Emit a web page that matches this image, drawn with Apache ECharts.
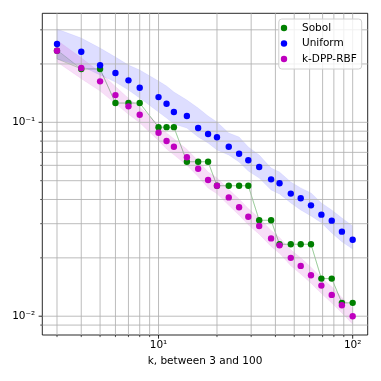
<!DOCTYPE html>
<html lang="en">
<head>
<meta charset="UTF-8">
<script src="https://cdn.jsdelivr.net/npm/echarts@6/dist/echarts.min.js"></script>
<style>
    html, body { margin: 0; padding: 0; background: #fff; }
    #main { width: 381px; height: 381px; }
</style>
</head>
<body>
<div id="main"></div>
<script type="text/javascript">
// k values on the x axis
var kValues = [3, 4, 5, 6, 7, 8, 10, 11, 12, 14, 16, 18, 20, 23, 26, 29, 33, 38, 42, 48, 54, 61, 69, 78, 88, 100];

// mean error per method
var sobol = [0.234, 0.1885, 0.1885, 0.1257, 0.1257, 0.1257, 0.0944, 0.0944, 0.0944, 0.0626, 0.0626, 0.0626,
    0.0471, 0.0471, 0.0471, 0.0471, 0.03126, 0.03126, 0.0235, 0.0235, 0.0235, 0.0235, 0.01563, 0.01563, 0.01172, 0.01172];
var uniform = [0.2535, 0.231, 0.197, 0.1795, 0.1646, 0.1507, 0.1349, 0.1247, 0.113, 0.1078, 0.0935, 0.0871, 0.0837,
    0.0748, 0.0689, 0.0637, 0.0588, 0.0508, 0.0485, 0.0429, 0.0406, 0.0373, 0.0334, 0.0311, 0.0273, 0.0248];
var kdpp = [0.234, 0.1906, 0.1627, 0.1382, 0.1209, 0.1094, 0.0884, 0.0801, 0.0748, 0.066, 0.0576, 0.0504, 0.0471,
    0.041, 0.0365, 0.0326, 0.0292, 0.0252, 0.0232, 0.02, 0.01817, 0.01627, 0.01438, 0.01288, 0.0114, 0.01];

// shaded spread bands
var sobolUpper = [0.236, 0.1885, 0.1885, 0.1257, 0.1257, 0.1257, 0.0944, 0.0944, 0.0944, 0.0626, 0.0626, 0.0626,
    0.0471, 0.0471, 0.0471, 0.0471, 0.03126, 0.03126, 0.0235, 0.0235, 0.0235, 0.0235, 0.01563, 0.01563, 0.01172, 0.01172];
var sobolLower = [0.2125, 0.1885, 0.1885, 0.1257, 0.1257, 0.1257, 0.0944, 0.0944, 0.0944, 0.0626, 0.0626, 0.0626,
    0.0471, 0.0471, 0.0471, 0.0471, 0.03126, 0.03126, 0.0235, 0.0235, 0.0235, 0.0235, 0.01563, 0.01563, 0.01172, 0.01172];
var uniformUpper = [0.3027, 0.2720, 0.2415, 0.2171, 0.1974, 0.1861, 0.1632, 0.1539, 0.1433, 0.1303, 0.1185, 0.1077,
    0.1004, 0.0881, 0.0840, 0.0746, 0.0678, 0.0581, 0.0554, 0.0492, 0.0459, 0.0432, 0.0384, 0.0353, 0.0321, 0.0292];
var uniformLower = [0.2120, 0.1950, 0.1753, 0.1613, 0.1467, 0.1335, 0.1130, 0.1052, 0.0980, 0.0934, 0.0840, 0.0782,
    0.0720, 0.0678, 0.0624, 0.0561, 0.0516, 0.0448, 0.0427, 0.0384, 0.0353, 0.0329, 0.0303, 0.0269, 0.0242, 0.0222];
var kdppUpper = [0.265, 0.215, 0.181, 0.153, 0.133, 0.120, 0.0972, 0.0881, 0.0823, 0.0726, 0.0634, 0.0554, 0.0518,
    0.0451, 0.0402, 0.0359, 0.0321, 0.0277, 0.0255, 0.0220, 0.0200, 0.0179, 0.0158, 0.0142, 0.0125, 0.0110];
var kdppLower = [0.205, 0.168, 0.145, 0.125, 0.110, 0.0995, 0.0804, 0.0728, 0.0680, 0.0600, 0.0524, 0.0458, 0.0428,
    0.0373, 0.0332, 0.0296, 0.0265, 0.0229, 0.0211, 0.0182, 0.0165, 0.0148, 0.0131, 0.0117, 0.0104, 0.0091];

// ticks
var xMajor = [10, 100];
var xMajorLabels = ['10¹', '10²'];
var xMinor = [3, 4, 5, 6, 7, 8, 9, 20, 30, 40, 50, 60, 70, 80, 90];
var yMajor = [0.01, 0.1];
var yMajorLabels = ['10⁻²', '10⁻¹'];
var yMinor = [0.009, 0.02, 0.03, 0.04, 0.05, 0.06, 0.07, 0.08, 0.09, 0.2, 0.3];

var xMin = 2.52, xMax = 119.5;
var yMin = 0.0080, yMax = 0.365;
var font = 'DejaVu Sans';

function findLabel(v, ticks, labels) {
    for (var i = 0; i < ticks.length; i++) {
        if (Math.abs(Math.log10(v) - Math.log10(ticks[i])) < 1e-6) return labels[i];
    }
    return '';
}

function bandSeries(upper, lower, fill, stroke) {
    return {
        type: 'custom',
        silent: true,
        z: 1,
        data: [[kValues[0], upper[0]]],
        renderItem: function (params, api) {
            var pts = [];
            for (var i = 0; i < kValues.length; i++) pts.push(api.coord([kValues[i], upper[i]]));
            for (var j = kValues.length - 1; j >= 0; j--) pts.push(api.coord([kValues[j], lower[j]]));
            return {
                type: 'polygon',
                shape: { points: pts },
                style: { fill: fill, stroke: stroke, lineWidth: 1 }
            };
        }
    };
}

// grid lines for major and minor ticks, drawn above bands and below markers
var gridSeries = {
    type: 'custom',
    silent: true,
    z: 2,
    data: [[kValues[0], yMin]],
    renderItem: function (params, api) {
        var cs = params.coordSys;
        var out = [];
        xMinor.concat(xMajor).forEach(function (v) {
            var x = api.coord([v, yMin])[0];
            out.push({ type: 'line', shape: { x1: x, y1: cs.y, x2: x, y2: cs.y + cs.height },
                style: { stroke: '#b0b0b0', lineWidth: 0.85 } });
        });
        yMinor.concat(yMajor).forEach(function (v) {
            var y = api.coord([xMin, v])[1];
            out.push({ type: 'line', shape: { x1: cs.x, y1: y, x2: cs.x + cs.width, y2: y },
                style: { stroke: '#b0b0b0', lineWidth: 0.85 } });
        });
        return { type: 'group', children: out };
    }
};

// tick marks outside the plot frame
var tickSeries = {
    type: 'custom',
    silent: true,
    clip: false,
    z: 5,
    data: [[kValues[0], yMin]],
    renderItem: function (params, api) {
        var cs = params.coordSys;
        var out = [];
        var bottom = cs.y + cs.height;
        xMajor.forEach(function (v) {
            var x = api.coord([v, yMin])[0];
            out.push({ type: 'line', shape: { x1: x, y1: bottom, x2: x, y2: bottom + 3.7 }, style: { stroke: '#000', lineWidth: 0.85 } });
        });
        xMinor.forEach(function (v) {
            var x = api.coord([v, yMin])[0];
            out.push({ type: 'line', shape: { x1: x, y1: bottom, x2: x, y2: bottom + 2.1 }, style: { stroke: '#000', lineWidth: 0.65 } });
        });
        yMajor.forEach(function (v) {
            var y = api.coord([xMin, v])[1];
            out.push({ type: 'line', shape: { x1: cs.x - 3.7, y1: y, x2: cs.x, y2: y }, style: { stroke: '#000', lineWidth: 0.85 } });
        });
        yMinor.forEach(function (v) {
            var y = api.coord([xMin, v])[1];
            out.push({ type: 'line', shape: { x1: cs.x - 2.1, y1: y, x2: cs.x, y2: y }, style: { stroke: '#000', lineWidth: 0.65 } });
        });
        return { type: 'group', children: out };
    }
};

function pairs(ys) {
    return kValues.map(function (k, i) { return [k, ys[i]]; });
}

var myChart = echarts.init(document.getElementById('main'), null, { renderer: 'canvas' });
var option = {
    animation: false,
    textStyle: { fontFamily: font },
    grid: {
        left: 42.3, right: 13.3, top: 13.3, bottom: 46,
        show: true, borderColor: '#000', borderWidth: 0.85, backgroundColor: 'transparent'
    },
    legend: {
        orient: 'vertical',
        right: 19.3,
        top: 19,
        data: ['Sobol', 'Uniform', 'k-DPP-RBF'],
        icon: 'circle',
        itemWidth: 26,
        itemHeight: 6.4,
        itemGap: 3.5,
        padding: [3, 5, 4, 2],
        backgroundColor: 'rgba(255,255,255,0.8)',
        borderColor: '#d0d0d0',
        borderWidth: 1,
        borderRadius: 3,
        textStyle: { fontFamily: font, fontSize: 10.5, color: '#000', lineHeight: 12 }
    },
    xAxis: {
        type: 'log',
        logBase: 10,
        min: xMin,
        max: xMax,
        name: 'k, between 3 and 100',
        nameLocation: 'middle',
        nameGap: 20,
        nameTextStyle: { fontFamily: font, fontSize: 10.5, color: '#000' },
        axisLine: { show: false },
        axisTick: { show: false },
        splitLine: { show: false },
        axisLabel: {
            margin: 5,
            fontFamily: font, fontSize: 10.5, color: '#000',
            formatter: function (v) { return findLabel(v, xMajor, xMajorLabels); }
        }
    },
    yAxis: {
        type: 'log',
        logBase: 10,
        min: yMin,
        max: yMax,
        axisLine: { show: false },
        axisTick: { show: false },
        splitLine: { show: false },
        axisLabel: {
            margin: 7,
            fontFamily: font, fontSize: 10.5, color: '#000',
            formatter: function (v) { return findLabel(v, yMajor, yMajorLabels); }
        }
    },
    series: [
        bandSeries(sobolUpper, sobolLower, 'rgba(0,128,0,0.12)', 'rgba(0,128,0,0.22)'),
        bandSeries(uniformUpper, uniformLower, 'rgba(0,0,255,0.13)', 'rgba(0,0,255,0.06)'),
        bandSeries(kdppUpper, kdppLower, 'rgba(191,0,191,0.13)', 'rgba(191,0,191,0.06)'),
        gridSeries,
        {
            name: 'Sobol', type: 'scatter', z: 3, symbol: 'circle', symbolSize: 6.4,
            itemStyle: { color: '#008000', opacity: 1 }, data: pairs(sobol)
        },
        {
            name: 'Uniform', type: 'scatter', z: 3, symbol: 'circle', symbolSize: 6.4,
            itemStyle: { color: '#0000ff', opacity: 1 }, data: pairs(uniform)
        },
        {
            name: 'k-DPP-RBF', type: 'scatter', z: 3, symbol: 'circle', symbolSize: 6.4,
            itemStyle: { color: '#bf00bf', opacity: 1 }, data: pairs(kdpp)
        },
        tickSeries
    ]
};
myChart.setOption(option);
</script>
</body>
</html>
